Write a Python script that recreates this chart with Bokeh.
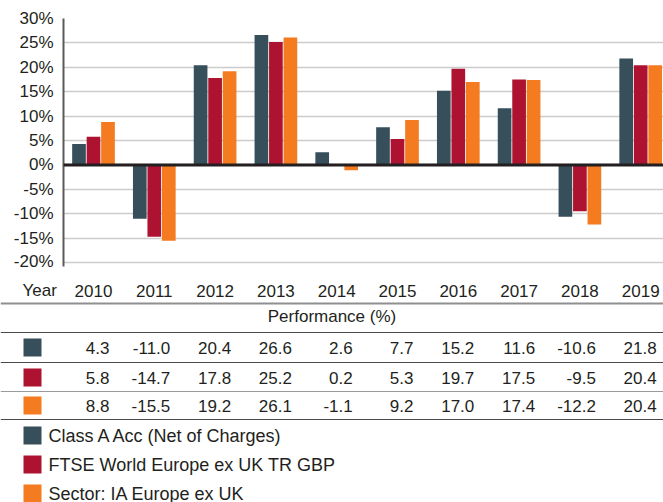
from bokeh.plotting import figure
from bokeh.models import Range1d, FixedTicker, PrintfTickFormatter, Span, ColumnDataSource
from bokeh.embed import file_html
from bokeh.resources import INLINE
from bokeh.core.properties import value
from bokeh.transform import dodge

# ---------------- data ----------------
years = [2010, 2011, 2012, 2013, 2014, 2015, 2016, 2017, 2018, 2019]
class_a = [4.3, -11.0, 20.4, 26.6, 2.6, 7.7, 15.2, 11.6, -10.6, 21.8]
ftse = [5.8, -14.7, 17.8, 25.2, 0.2, 5.3, 19.7, 17.5, -9.5, 20.4]
sector = [8.8, -15.5, 19.2, 26.1, -1.1, 9.2, 17.0, 17.4, -12.2, 20.4]
series_names = ["Class A Acc (Net of Charges)",
                "FTSE World Europe ex UK TR GBP",
                "Sector: IA Europe ex UK"]
series_colors = ["#374e5b", "#ae1231", "#f47b20"]
y_ticks = [-20, -15, -10, -5, 0, 5, 10, 15, 20, 25, 30]
x_label = "Year"
table_title = "Performance (%)"

# ---------------- styling / layout ----------------
FONT = "Liberation Sans"
FS = "17px"
TXT = "#231f20"
W = 663
PX = 60.8                 # pixels per year
X_FIRST = 93              # x of first year centre
AXIS_X = 63
x_tab0 = years[0] - X_FIRST / PX
x_end = years[0] + (W - X_FIRST) / PX
x_chart0 = years[0] - (X_FIRST - AXIS_X) / PX

series = [class_a, ftse, sector]
src = ColumnDataSource(dict(year=years, a=class_a, b=ftse, c=sector))

chart = figure(width=W, height=270,
               x_range=Range1d(x_chart0, x_end), y_range=Range1d(-20.8, 30),
               output_backend="svg", toolbar_location=None,
               x_axis_location=None,
               min_border_left=AXIS_X, min_border_right=0,
               min_border_top=18, min_border_bottom=4)
chart.outline_line_color = None
chart.xgrid.visible = False
chart.ygrid.ticker = FixedTicker(ticks=y_ticks)
chart.ygrid.grid_line_color = "#cccccc"
chart.ygrid.grid_line_width = 1.5

ax = chart.yaxis[0]
ax.ticker = FixedTicker(ticks=y_ticks)
ax.formatter = PrintfTickFormatter(format="%d%%")
ax.major_label_text_font = FONT
ax.major_label_text_font_size = FS
ax.major_label_text_color = TXT
ax.major_tick_in = 0
ax.major_tick_out = 0
ax.minor_tick_in = 0
ax.minor_tick_out = 0
ax.axis_line_color = "#5a5a5a"
ax.axis_line_width = 2
ax.major_label_standoff = 10

offsets = [-0.2385, 0.0, 0.2385]
for col, off, colr in zip(["a", "b", "c"], offsets, series_colors):
    chart.vbar(x=dodge("year", off), top=col, width=0.225, source=src,
               fill_color=colr, line_color=None)

chart.add_layout(Span(location=0, dimension="width", line_color="#231f20", line_width=3))

# ---------------- table ----------------
tbl = figure(width=W, height=232,
             x_range=Range1d(x_tab0, x_end), y_range=Range1d(502, 270),
             output_backend="svg", toolbar_location=None,
             x_axis_location=None, y_axis_location=None,
             min_border=0, min_border_left=0, min_border_right=0,
             min_border_top=0, min_border_bottom=0)
tbl.outline_line_color = None
tbl.grid.visible = False

def txt(xs, ys, texts, align="left", xoff=0, size=FS):
    tbl.text(x=xs, y=ys, text=texts, text_font=value(FONT), text_font_size=size,
             text_color=TXT, text_align=align, text_baseline="middle", x_offset=xoff)

# year row
txt(years, [290] * len(years), [str(y) for y in years], align="center")
txt([x_tab0 + 22 / PX], [290], [x_label])

# lines
for yl, colr, lw in [(303, "#8f8f8f", 2), (332, "#4a4a4a", 1.2), (362, "#4a4a4a", 1.2),
                     (391, "#9a9a9a", 1.2), (419, "#4a4a4a", 1.2)]:
    tbl.add_layout(Span(location=yl, dimension="width", line_color=colr, line_width=lw))

# header
txt([(x_tab0 + x_end) / 2], [316], [table_title], align="center")

sq_x = x_tab0 + 32 / PX
row_y = [347, 377, 405]
for vals, colr, ry in zip(series, series_colors, row_y):
    tbl.rect(x=[sq_x], y=[ry], width=18, height=18, width_units="screen",
             height_units="screen", fill_color=colr, line_color=None)
    txt(years, [ry] * len(years), [f"{v:.1f}" for v in vals], align="right", xoff=16)

leg_y = [435, 464, 493]
for name, colr, ly in zip(series_names, series_colors, leg_y):
    tbl.rect(x=[sq_x], y=[ly], width=18, height=18, width_units="screen",
             height_units="screen", fill_color=colr, line_color=None)
    txt([x_tab0 + 48 / PX], [ly], [name], size="18px")

open("out.html", "w").write(file_html([chart, tbl], INLINE))
